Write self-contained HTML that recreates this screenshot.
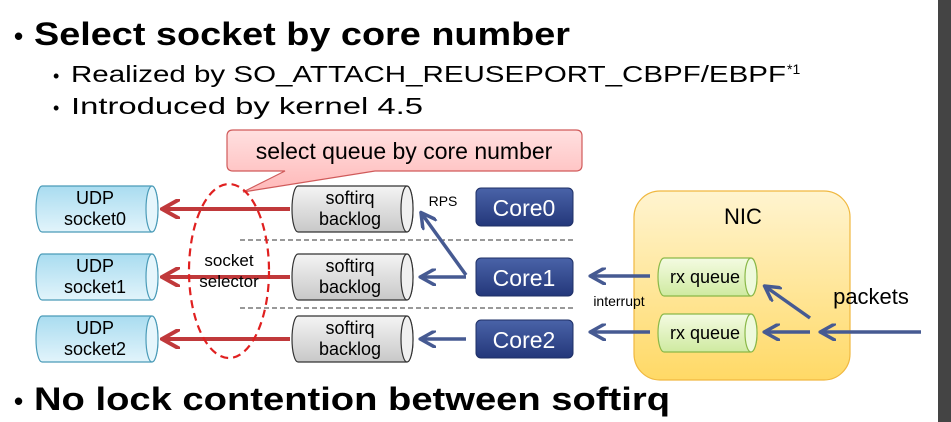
<!DOCTYPE html>
<html><head><meta charset="utf-8"><style>body{margin:0;background:#fff}svg{display:block}text{font-family:"Liberation Sans",sans-serif}</style></head>
<body><svg width="951" height="422" viewBox="0 0 951 422" xmlns="http://www.w3.org/2000/svg">
<defs>
<linearGradient id="udp" x1="0" y1="0" x2="0" y2="1"><stop offset="0" stop-color="#a9dcf0"/><stop offset="1" stop-color="#e2f4fb"/></linearGradient>
<linearGradient id="gr" x1="0" y1="0" x2="0" y2="1"><stop offset="0" stop-color="#f4f4f4"/><stop offset="1" stop-color="#c8c8c8"/></linearGradient>
<linearGradient id="core" x1="0" y1="0" x2="0" y2="1"><stop offset="0" stop-color="#4a63a8"/><stop offset="1" stop-color="#23377a"/></linearGradient>
<linearGradient id="nic" x1="0" y1="0" x2="0" y2="1"><stop offset="0" stop-color="#fff4d0"/><stop offset="1" stop-color="#ffd966"/></linearGradient>
<linearGradient id="rx" x1="0" y1="0" x2="0" y2="1"><stop offset="0" stop-color="#f4fbe2"/><stop offset="1" stop-color="#cfeaa0"/></linearGradient>
<linearGradient id="call" x1="0" y1="0" x2="0" y2="1"><stop offset="0" stop-color="#ffe0e0"/><stop offset="1" stop-color="#ffb8b8"/></linearGradient>
<marker id="ab" viewBox="0 0 10 10" refX="8" refY="5" markerWidth="5" markerHeight="5" orient="auto"><path d="M0,0 L9,5 L0,10" fill="none" stroke="#465a92" stroke-width="2"/></marker>
<marker id="ar" viewBox="0 0 10 10" refX="8" refY="5" markerWidth="5" markerHeight="5" orient="auto"><path d="M0,0 L9,5 L0,10" fill="none" stroke="#c0393b" stroke-width="2"/></marker>
</defs>
<rect x="938" y="0" width="13" height="422" fill="#444"/>
<text x="14" y="45" font-size="26" font-weight="bold">•</text>
<text x="34" y="45" font-size="32" font-weight="bold" textLength="536" lengthAdjust="spacingAndGlyphs">Select socket by core number</text>
<text x="53" y="82" font-size="18">•</text>
<text x="71" y="82" font-size="23" textLength="715" lengthAdjust="spacingAndGlyphs">Realized by SO_ATTACH_REUSEPORT_CBPF/EBPF</text>
<text x="787" y="74" font-size="14">*1</text>
<text x="53" y="114" font-size="18">•</text>
<text x="71" y="114" font-size="23" textLength="352" lengthAdjust="spacingAndGlyphs">Introduced by kernel 4.5</text>
<text x="14" y="410" font-size="26" font-weight="bold">•</text>
<text x="34" y="410" font-size="32" font-weight="bold" textLength="636" lengthAdjust="spacingAndGlyphs">No lock contention between softirq</text>
<path d="M233,130 H576 Q582,130 582,136 V165 Q582,171 576,171 H375 L243,192 L285,171 H233 Q227,171 227,165 V136 Q227,130 233,130 Z" fill="url(#call)" stroke="#d05a5a" stroke-width="1.2"/>
<text x="404" y="159" font-size="23" text-anchor="middle">select queue by core number</text>
<line x1="240" y1="240" x2="573" y2="240" stroke="#333" stroke-dasharray="5,3"/>
<line x1="240" y1="308" x2="573" y2="308" stroke="#333" stroke-dasharray="5,3"/>
<rect x="634" y="191" width="216" height="189" rx="26" fill="url(#nic)" stroke="#f0b840" stroke-width="1.2"/>
<text x="743" y="224" font-size="22" text-anchor="middle">NIC</text>
<g stroke-width="1.2">
<g stroke="#4a9bb8">
<path d="M42,186 H152 A6,23 0 0 1 152,232 H42 A6,23 0 0 1 42,186Z" fill="url(#udp)"/><ellipse cx="152" cy="209" rx="6" ry="23" fill="#e6f6fc"/>
<path d="M42,254 H152 A6,23 0 0 1 152,300 H42 A6,23 0 0 1 42,254Z" fill="url(#udp)"/><ellipse cx="152" cy="277" rx="6" ry="23" fill="#e6f6fc"/>
<path d="M42,316 H152 A6,23 0 0 1 152,362 H42 A6,23 0 0 1 42,316Z" fill="url(#udp)"/><ellipse cx="152" cy="339" rx="6" ry="23" fill="#e6f6fc"/>
</g>
<g stroke="#333">
<path d="M298,186 H407 A6,23 0 0 1 407,232 H298 A6,23 0 0 1 298,186Z" fill="url(#gr)"/><ellipse cx="407" cy="209" rx="6" ry="23" fill="#f0f0f0"/>
<path d="M298,254 H407 A6,23 0 0 1 407,300 H298 A6,23 0 0 1 298,254Z" fill="url(#gr)"/><ellipse cx="407" cy="277" rx="6" ry="23" fill="#f0f0f0"/>
<path d="M298,316 H407 A6,23 0 0 1 407,362 H298 A6,23 0 0 1 298,316Z" fill="url(#gr)"/><ellipse cx="407" cy="339" rx="6" ry="23" fill="#f0f0f0"/>
</g>
<g stroke="#8ab848">
<path d="M664,258 H751 A6,19 0 0 1 751,296 H664 A6,19 0 0 1 664,258Z" fill="url(#rx)"/><ellipse cx="751" cy="277" rx="6" ry="19" fill="#eefadc"/>
<path d="M664,314 H751 A6,19 0 0 1 751,352 H664 A6,19 0 0 1 664,314Z" fill="url(#rx)"/><ellipse cx="751" cy="333" rx="6" ry="19" fill="#eefadc"/>
</g>
</g>
<g font-size="18" text-anchor="middle">
<text x="95" y="204">UDP</text><text x="95" y="225">socket0</text>
<text x="95" y="272">UDP</text><text x="95" y="293">socket1</text>
<text x="95" y="334">UDP</text><text x="95" y="355">socket2</text>
<text x="350" y="204">softirq</text><text x="350" y="225">backlog</text>
<text x="350" y="272">softirq</text><text x="350" y="293">backlog</text>
<text x="350" y="334">softirq</text><text x="350" y="355">backlog</text>
<text x="705" y="283">rx queue</text><text x="705" y="339">rx queue</text>
</g>
<g fill="url(#core)" stroke="#1e2f66">
<rect x="476" y="188" width="97" height="38" rx="5"/>
<rect x="476" y="258" width="97" height="38" rx="5"/>
<rect x="476" y="320" width="97" height="38" rx="5"/>
</g>
<g font-size="23" fill="#fff" text-anchor="middle">
<text x="524" y="216">Core0</text><text x="524" y="286">Core1</text><text x="524" y="348">Core2</text>
</g>
<text x="443" y="206" font-size="14" text-anchor="middle">RPS</text>
<text x="619" y="306" font-size="14" text-anchor="middle">interrupt</text>
<text x="871" y="304" font-size="22" text-anchor="middle">packets</text>
<g stroke="#c0393b" stroke-width="4" marker-end="url(#ar)">
<line x1="290" y1="209" x2="164" y2="209"/>
<line x1="290" y1="277" x2="164" y2="277"/>
<line x1="290" y1="339" x2="164" y2="339"/>
</g>
<g stroke="#465a92" stroke-width="3.5" marker-end="url(#ab)">
<line x1="466" y1="275" x2="422" y2="214"/>
<line x1="466" y1="277" x2="422" y2="277"/>
<line x1="466" y1="339" x2="422" y2="339"/>
<line x1="650" y1="276" x2="592" y2="276"/>
<line x1="650" y1="332" x2="592" y2="332"/>
<line x1="810" y1="318" x2="766" y2="287"/>
<line x1="810" y1="332" x2="766" y2="332"/>
<line x1="921" y1="332" x2="822" y2="332"/>
</g>
<ellipse cx="229" cy="271" rx="40" ry="87" fill="none" stroke="#e02020" stroke-width="2.2" stroke-dasharray="8,5"/>
<text x="229" y="266" font-size="17" text-anchor="middle">socket</text>
<text x="229" y="287" font-size="17" text-anchor="middle">selector</text>
</svg></body></html>
